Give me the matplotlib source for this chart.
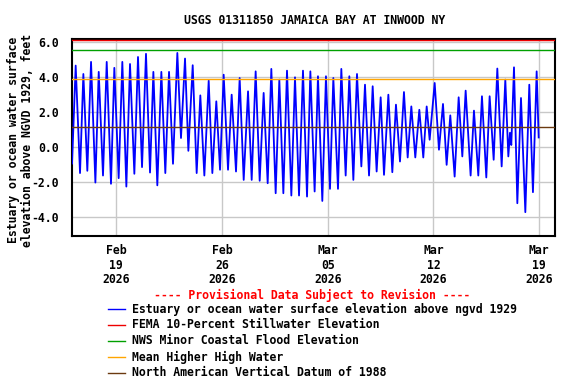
import numpy as np
import matplotlib
matplotlib.use("Agg")
from matplotlib import pyplot as plt
import matplotlib.dates as mdates
from matplotlib.lines import Line2D

# tide extremes, hours from 2026-02-19 00:00
tide_hours = [
    -70.7, -70.2, -64.4, -57.5, -52.2, -45.9, -40.0, -33.1, -27.8, -21.0, -15.1, -8.3,
    -3.0, 3.9, 9.7, 16.1, 21.9, 28.8, 34.6, 41.0, 47.3, 53.7, 59.0, 65.3,
    71.7, 78.0, 83.9, 90.2, 97.1, 102.9, 109.3, 114.6,
    121.5, 127.8, 133.6, 140.0, 146.9, 152.7, 159.0, 164.9, 170.7, 177.6, 183.4, 190.3,
    196.1, 202.5, 209.4, 215.2, 221.5, 227.9, 234.2, 240.6, 246.4, 253.3, 259.1, 265.5,
    271.3, 278.2, 284.0, 290.4, 296.7, 303.1,
    308.4, 315.2, 320.5, 327.4, 333.2, 339.6, 344.9, 352.3, 357.6, 364.5, 370.3, 376.7,
    382.5, 389.4, 395.2, 401.6, 407.4, 413.7, 420.1, 425.4, 432.3, 438.6, 444.4, 450.8,
    457.1, 463.0, 468.8, 475.1, 481.5, 487.8,
    493.2, 497.9, 505.9, 512.7, 519.1, 524.9, 530.7, 537.6, 544.0, 549.8, 555.1, 563.0,
    568.3, 575.2, 581.0, 587.9, 593.2, 599.6, 605.4, 612.3, 618.1, 622.9, 625.5, 627.6,
    631.9, 637.2, 643.0, 649.9, 656.2, 662.0, 667.9, 671.1,
]
tide_ft = [
    -0.1, -0.97, 4.63, -1.5, 4.15, -1.37, 4.84, -2.04, 4.27, -1.64, 4.84, -2.11,
    4.5, -1.79, 4.84, -2.27, 4.72, -1.54, 5.12, -1.16, 5.3, -1.47, 4.27, -2.2,
    4.27, -1.5, 4.27, -0.97, 5.35, 0.5, 5.03, -0.23,
    4.65, -1.5, 2.93, -1.64, 3.77, -1.5, 2.59, -1.31, 4.11, -1.31, 2.97, -1.41,
    3.92, -1.89, 3.16, -1.89, 4.3, -1.94, 3.07, -2.08, 4.44, -2.65, 3.83, -2.65,
    4.34, -2.78, 3.96, -2.78, 4.34, -2.84,
    4.3, -2.55, 4.02, -3.09, 4.02, -2.4, 3.92, -2.4, 4.44, -1.64, 4.02, -1.89,
    4.15, -1.12, 3.54, -1.64, 3.45, -1.41, 2.82, -1.6, 2.97, -1.45, 2.4, -0.84,
    3.12, -0.61, 2.3, -0.61, 2.11, -0.61,
    2.3, 0.4, 3.64, -0.17, 2.44, -1.03, 1.79, -1.7, 2.82, -0.55, 3.2, -1.64,
    2.06, -1.64, 2.88, -1.75, 2.88, -0.74, 4.46, -1.12, 3.83, -0.55, 0.8, 0.1,
    4.53, -3.22, 2.78, -3.73, 3.54, -2.59, 4.3, 0.53,
]

fema_10pct = 6.07
nws_minor = 5.5
mhhw = 3.85
navd88 = 1.1

y_ticks = [-4.0, -2.0, 0.0, 2.0, 4.0, 6.0]
date_ticks = ["2026-02-19", "2026-02-26", "2026-03-05", "2026-03-12", "2026-03-19"]

legend_labels = [
    "Estuary or ocean water surface elevation above ngvd 1929",
    "FEMA 10-Percent Stillwater Elevation",
    "NWS Minor Coastal Flood Elevation",
    "Mean Higher High Water",
    "North American Vertical Datum of 1988",
]
legend_colors = ["#0000ff", "#ee0000", "#00a000", "#ffa500", "#6b3a10"]

base = np.datetime64("2026-02-19T00:00")
times = base + (np.array(tide_hours) * 60).astype("timedelta64[m]")

FONT = "DejaVu Sans Mono"
FS = 8.3

fig = plt.figure(figsize=(5.76, 3.84), dpi=100)
ax = fig.add_axes([0.1245, 0.3854, 0.839, 0.5123])

ax.plot(times, tide_ft, color=legend_colors[0], lw=1.3, zorder=3)
for val, col in zip([fema_10pct, nws_minor, mhhw, navd88], legend_colors[1:]):
    ax.axhline(val, color=col, lw=1.0, zorder=4)

ax.set_xlim(base - np.timedelta64(4242, "m"), base + np.timedelta64(41820, "m"))
ax.set_ylim(-5.09, 6.13)

ax.set_yticks(y_ticks)
ax.set_yticklabels(["%.1f" % v for v in y_ticks])
ax.set_xticks([np.datetime64(d + "T00:00") for d in date_ticks])
ax.xaxis.set_major_formatter(mdates.DateFormatter("%b\n%d\n%Y"))

for lab in ax.get_xticklabels() + ax.get_yticklabels():
    lab.set_fontfamily(FONT)
    lab.set_fontweight("bold")
    lab.set_fontsize(FS)
    lab.set_linespacing(1.15)
ax.tick_params(axis="both", length=0)
ax.tick_params(axis="y", pad=9)
ax.tick_params(axis="x", pad=6)

ax.grid(True, color="#c8c8c8", lw=1.0, zorder=1)
for s in ax.spines.values():
    s.set_linewidth(1.5)
    s.set_color("black")

# y label placed by hand so it sits where the reference has it
fig.text(20.5 / 576, 1 - 140 / 384,
         "Estuary or ocean water surface\nelevation above NGVD 1929, feet",
         rotation=90, ha="center", va="center", multialignment="center",
         fontfamily=FONT, fontweight="bold", fontsize=FS, linespacing=1.15)

fig.text(315 / 576, 1 - 20 / 384, "USGS 01311850 JAMAICA BAY AT INWOOD NY",
         ha="center", va="center", fontfamily=FONT, fontweight="bold", fontsize=FS)

fig.text(312 / 576, 1 - 295 / 384, "---- Provisional Data Subject to Revision ----",
         ha="center", va="center", color="red", fontfamily=FONT, fontweight="bold", fontsize=FS)

for i, (lab, col) in enumerate(zip(legend_labels, legend_colors)):
    yy = 1 - (309 + 16 * i) / 384
    fig.add_artist(Line2D([108 / 576, 125 / 576], [yy, yy], color=col, lw=1.0,
                          transform=fig.transFigure))
    fig.text(131.5 / 576, yy, lab, ha="left", va="center",
             fontfamily=FONT, fontweight="bold", fontsize=FS)

fig.savefig("out.png", dpi=100)
